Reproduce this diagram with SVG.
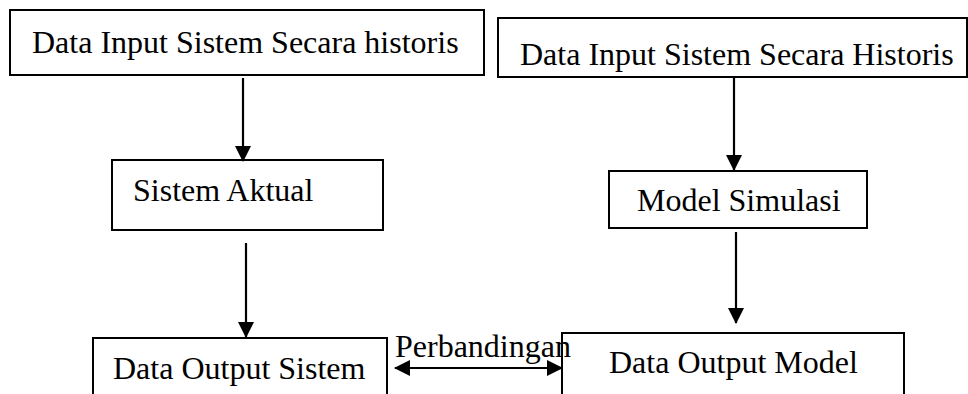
<svg xmlns="http://www.w3.org/2000/svg" width="968" height="394" viewBox="0 0 968 394">
<style>
.box{fill:#fff;stroke:#000;stroke-width:2}
.t{font-family:"Liberation Serif","Times New Roman",serif;font-size:32px;fill:#000}
.c{stroke:#000;stroke-width:2.2;fill:none}
</style>
<defs>
<marker id="ah" markerUnits="userSpaceOnUse" markerWidth="16" markerHeight="16" viewBox="0 0 16 16" refX="15" refY="8" orient="auto-start-reverse">
<path d="M0,0 L16,8 L0,16 Z" fill="#000"/>
</marker>
</defs>
<rect width="968" height="394" fill="#fff"/>
<g id="n1"><rect class="box" x="10" y="10" width="474" height="65"/><text class="t" x="32" y="53">Data Input Sistem Secara historis</text></g>
<g id="n2"><rect class="box" x="498" y="18" width="469" height="59"/><text class="t" x="520" y="65">Data Input Sistem Secara Historis</text></g>
<g id="n3"><rect class="box" x="112" y="160" width="271" height="70"/><text class="t" x="133" y="201">Sistem Aktual</text></g>
<g id="n4"><rect class="box" x="609" y="171" width="258" height="57"/><text class="t" x="637" y="211">Model Simulasi</text></g>
<g id="n5"><rect class="box" x="93" y="338" width="294" height="70"/><text class="t" x="113" y="379">Data Output Sistem</text></g>
<g id="n6"><rect class="box" x="562" y="333" width="342" height="75"/><text class="t" x="609" y="373">Data Output Model</text></g>
<g id="connectors">
<line class="c" x1="243" y1="78" x2="243" y2="161" marker-end="url(#ah)"/>
<line class="c" x1="734" y1="78" x2="734" y2="170" marker-end="url(#ah)"/>
<line class="c" x1="246" y1="243" x2="246" y2="337" marker-end="url(#ah)"/>
<line class="c" x1="736" y1="232" x2="736" y2="323" marker-end="url(#ah)"/>
<line class="c" x1="395" y1="368" x2="562" y2="368" marker-start="url(#ah)" marker-end="url(#ah)"/>
<text class="t" x="395" y="357">Perbandingan</text>
</g>
</svg>
